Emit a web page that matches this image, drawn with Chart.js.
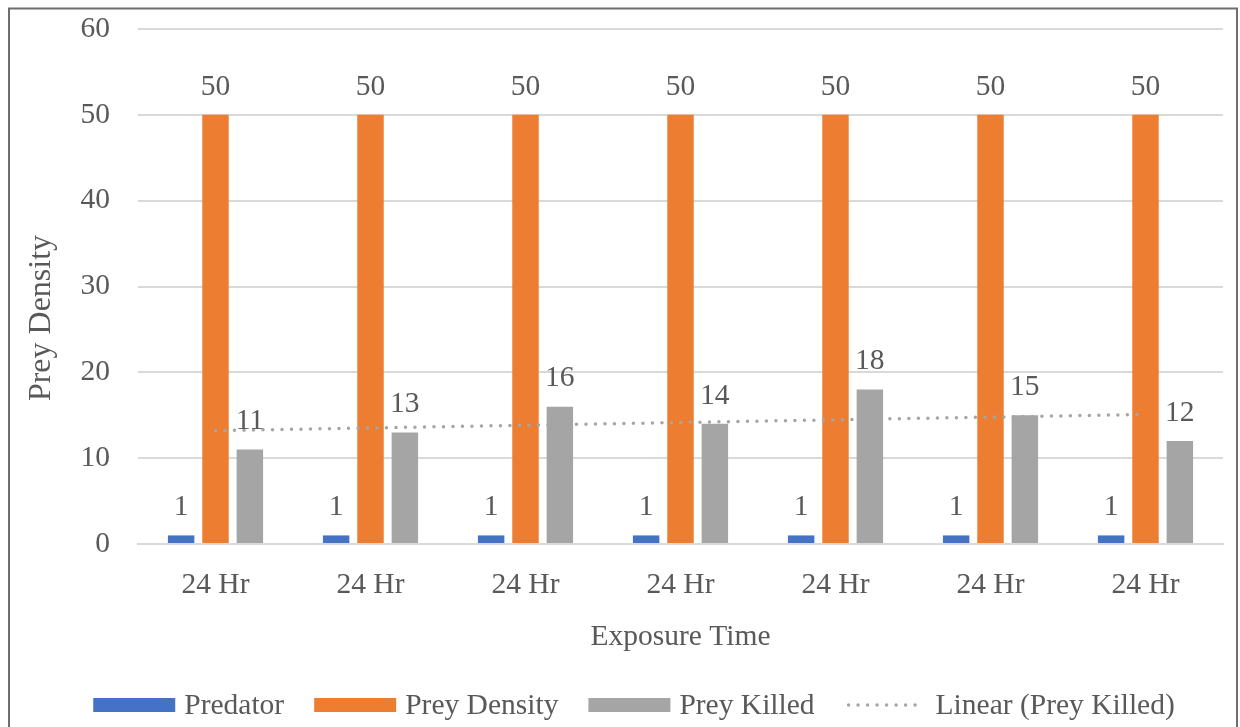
<!DOCTYPE html>
<html>
<head>
<meta charset="utf-8">
<style>
  html, body { margin: 0; padding: 0; background: #ffffff; }
  #wrap { width: 1240px; height: 727px; position: relative; }
</style>
<script src="https://cdn.jsdelivr.net/npm/chart.js@4.4.1/dist/chart.umd.min.js"></script>
</head>
<body>
<div id="wrap"><canvas id="chart" width="1240" height="727"></canvas></div>
<script>
// Exposure time categories
const categories = ['24 Hr', '24 Hr', '24 Hr', '24 Hr', '24 Hr', '24 Hr', '24 Hr'];
// Series values
const predator = [1, 1, 1, 1, 1, 1, 1];
const preyDensity = [50, 50, 50, 50, 50, 50, 50];
const preyKilled = [11, 13, 16, 14, 18, 15, 12];
// Linear trendline of Prey Killed: values at the first and last category
const trendPreyKilled = [13.2, null, null, null, null, null, 15.1];
// Y axis ticks
const yTicks = [0, 10, 20, 30, 40, 50, 60];

const FONT = 'Liberation Serif, "Times New Roman", serif';
const TEXT = '#595959';
const FS = 29.5;

// Frame around the chart
const framePlugin = {
  id: 'frame',
  beforeDraw(chart) {
    const ctx = chart.ctx;
    ctx.save();
    ctx.fillStyle = '#ffffff';
    ctx.fillRect(0, 0, chart.width, chart.height);
    ctx.strokeStyle = '#6e6e6e';
    ctx.lineWidth = 2;
    ctx.strokeRect(9, 8.5, 1228, 800);
    ctx.restore();
  }
};

// Vertical axis title
const yTitle = {
  id: 'yTitle',
  afterDraw(chart) {
    const ctx = chart.ctx;
    ctx.save();
    ctx.translate(42, 318);
    ctx.rotate(-Math.PI / 2);
    ctx.font = '32px ' + FONT;
    ctx.fillStyle = TEXT;
    ctx.textAlign = 'center';
    ctx.textBaseline = 'middle';
    ctx.fillText('Prey Density', 0, 0);
    ctx.restore();
  }
};

// Value labels above each bar
const valueLabels = {
  id: 'valueLabels',
  afterDatasetsDraw(chart) {
    const ctx = chart.ctx;
    ctx.save();
    ctx.font = FS + 'px ' + FONT;
    ctx.fillStyle = TEXT;
    ctx.textAlign = 'center';
    ctx.textBaseline = 'middle';
    chart.data.datasets.forEach((ds, i) => {
      if (ds.type === 'line') return;
      const meta = chart.getDatasetMeta(i);
      meta.data.forEach((bar, j) => {
        ctx.fillText(String(ds.data[j]), bar.x, bar.y - 28);
      });
    });
    ctx.restore();
  }
};

// Legend row along the bottom
const legendRow = {
  id: 'legendRow',
  afterDraw(chart) {
    const ctx = chart.ctx;
    const boxW = 82, boxH = 14, textGap = 9, itemGap = 30;
    const cy = 705;
    ctx.save();
    ctx.font = FS + 'px ' + FONT;
    const items = chart.data.datasets.map(ds => ({
      ds, w: boxW + textGap + ctx.measureText(ds.label).width
    }));
    const total = items.reduce((s, it) => s + it.w, 0) + itemGap * (items.length - 1);
    let x = 634 - total / 2;
    items.forEach(it => {
      const ds = it.ds;
      if (ds.type === 'line') {
        ctx.strokeStyle = ds.borderColor;
        ctx.lineWidth = ds.borderWidth;
        ctx.lineCap = 'round';
        ctx.setLineDash(ds.borderDash);
        ctx.beginPath();
        ctx.moveTo(x + 4, cy);
        ctx.lineTo(x + boxW - 4, cy);
        ctx.stroke();
        ctx.setLineDash([]);
      } else {
        ctx.fillStyle = ds.backgroundColor;
        ctx.fillRect(x, cy - boxH / 2, boxW, boxH);
      }
      ctx.fillStyle = TEXT;
      ctx.textAlign = 'left';
      ctx.textBaseline = 'middle';
      ctx.fillText(ds.label, x + boxW + textGap, cy + 1);
      x += it.w + itemGap;
    });
    ctx.restore();
  }
};

new Chart(document.getElementById('chart'), {
  type: 'bar',
  data: {
    labels: categories,
    datasets: [
      {
        label: 'Predator', data: predator, backgroundColor: '#4472C4',
        categoryPercentage: 0.665, barPercentage: 0.77, order: 1
      },
      {
        label: 'Prey Density', data: preyDensity, backgroundColor: '#ED7D31',
        categoryPercentage: 0.665, barPercentage: 0.77, order: 1
      },
      {
        label: 'Prey Killed', data: preyKilled, backgroundColor: '#A5A5A5',
        categoryPercentage: 0.665, barPercentage: 0.77, order: 1
      },
      {
        type: 'line', label: 'Linear (Prey Killed)', data: trendPreyKilled,
        borderColor: '#A5A5A5', borderWidth: 3.5, borderDash: [0, 9.5],
        borderCapStyle: 'round', pointRadius: 0, spanGaps: true, fill: false,
        tension: 0, order: 0
      }
    ]
  },
  options: {
    responsive: false,
    animation: false,
    layout: { autoPadding: false, padding: { top: 29, right: 17, bottom: 0, left: 0 } },
    plugins: { legend: { display: false }, tooltip: { enabled: false } },
    scales: {
      x: {
        grid: { display: false },
        border: { display: true, color: '#d9d9d9', width: 2 },
        ticks: { color: TEXT, font: { family: FONT, size: FS }, padding: 16, maxRotation: 0 },
        title: {
          display: true, text: 'Exposure Time', color: TEXT,
          font: { family: FONT, size: FS }, padding: { top: 0, bottom: 72 }
        },
        afterFit(scale) { scale.height = 183; }
      },
      y: {
        min: 0, max: 60,
        afterBuildTicks(scale) { scale.ticks = yTicks.map(v => ({ value: v })); },
        grid: { color: '#d9d9d9', lineWidth: 2, drawTicks: false },
        border: { display: false },
        ticks: { color: TEXT, font: { family: FONT, size: FS }, padding: 28 },
        afterFit(scale) { scale.width = 138; scale.paddingTop = 0; scale.paddingBottom = 0; }
      }
    }
  },
  plugins: [framePlugin, yTitle, valueLabels, legendRow]
});
</script>
</body>
</html>
